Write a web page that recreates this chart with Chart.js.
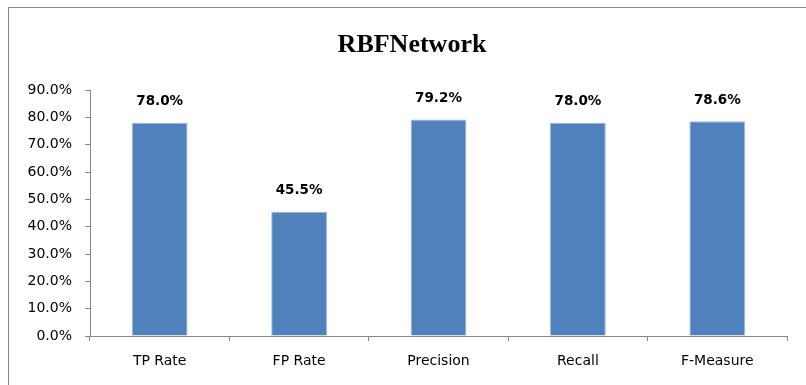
<!DOCTYPE html>
<html>
<head>
<meta charset="utf-8">
<script src="https://cdn.jsdelivr.net/npm/chart.js@4"></script>
<style>
    html, body { margin: 0; padding: 0; background: #fff; }
    #wrap { position: relative; width: 806px; height: 385px; }
</style>
</head>
<body>
<div id="wrap"><canvas id="rbfChart" width="806" height="385"></canvas></div>
<script>
// RBFNetwork metrics
const categories = ['TP Rate', 'FP Rate', 'Precision', 'Recall', 'F-Measure'];
const values = [78.0, 45.5, 79.2, 78.0, 78.6];
const yTicks = [0, 10, 20, 30, 40, 50, 60, 70, 80, 90];

const axisGrey = '#878787';

// frame, title and value labels
const decorations = {
    id: 'decorations',
    beforeDraw(chart) {
        const ctx = chart.ctx;
        ctx.save();
        ctx.strokeStyle = axisGrey;
        ctx.lineWidth = 1;
        ctx.strokeRect(8.5, 7.5, 1000, 1000);
        ctx.restore();
    },
    afterDatasetsDraw(chart) {
        const ctx = chart.ctx;
        ctx.save();
        ctx.fillStyle = '#000';
        ctx.textAlign = 'center';
        ctx.textBaseline = 'alphabetic';
        ctx.font = "bold 26px 'Liberation Serif'";
        ctx.fillText('RBFNetwork', 412, 52);

        ctx.font = "bold 13.5px 'DejaVu Sans'";
        ctx.textBaseline = 'middle';
        chart.getDatasetMeta(0).data.forEach((bar, i) => {
            ctx.fillText(values[i].toFixed(1) + '%', bar.x, bar.y - 21);
        });
        ctx.restore();
    }
};

const rbfCtx = document.getElementById('rbfChart');
new Chart(rbfCtx, {
    type: 'bar',
    data: {
        labels: categories,
        datasets: [{
            data: values,
            backgroundColor: '#4F81BD',
            borderColor: '#9DB7DA',
            borderWidth: 1,
            barPercentage: 0.4,
            categoryPercentage: 1
        }]
    },
    options: {
        responsive: false,
        animation: false,
        layout: {
            padding: { top: 90, right: 19, bottom: 0, left: 0 }
        },
        plugins: {
            legend: { display: false },
            title: { display: false },
            tooltip: { enabled: false }
        },
        scales: {
            x: {
                afterFit(scale) { scale.height = 49; },
                border: { color: axisGrey, width: 1 },
                grid: {
                    drawOnChartArea: false,
                    drawTicks: true,
                    tickLength: 5,
                    color: axisGrey
                },
                ticks: {
                    color: '#000',
                    padding: 12,
                    font: { family: 'DejaVu Sans', size: 14 }
                }
            },
            y: {
                min: 0,
                max: 90,
                afterFit(scale) { scale.width = 90; },
                afterBuildTicks(scale) {
                    scale.ticks = yTicks.map(v => ({ value: v }));
                },
                border: { color: axisGrey, width: 1 },
                grid: {
                    drawOnChartArea: false,
                    drawTicks: true,
                    tickLength: 5,
                    color: axisGrey
                },
                ticks: {
                    color: '#000',
                    padding: 13,
                    font: { family: 'DejaVu Sans', size: 14 },
                    callback: function(value) {
                        return value.toFixed(1) + '%';
                    }
                }
            }
        }
    },
    plugins: [decorations]
});
</script>
</body>
</html>
